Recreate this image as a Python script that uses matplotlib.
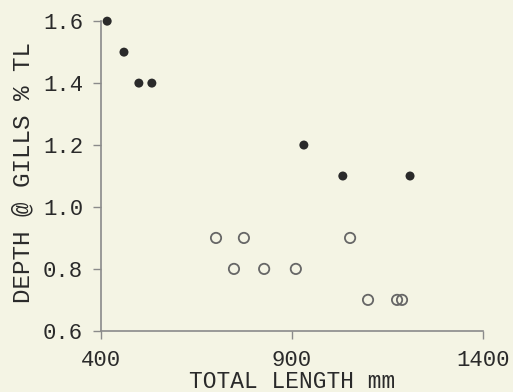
import matplotlib
matplotlib.use('Agg')
import matplotlib.pyplot as plt

# filled points
filled_len = [416, 460, 499, 533, 931, 1033, 1209]
filled_depth = [1.6, 1.5, 1.4, 1.4, 1.2, 1.1, 1.1]

# open points
open_len = [701, 774, 748, 827, 910, 1052, 1099, 1175, 1188]
open_depth = [0.9, 0.9, 0.8, 0.8, 0.8, 0.9, 0.7, 0.7, 0.7]

x_ticks = [400, 900, 1400]
y_ticks = [0.6, 0.8, 1.0, 1.2, 1.4, 1.6]
y_labels = ['0.6', '0.8', '1.0', '1.2', '1.4', '1.6']

bg = '#f4f4e4'
ink = '#2a2a2a'
plt.rcParams['font.family'] = ['Liberation Mono', 'DejaVu Sans Mono']

fig = plt.figure(figsize=(5.13, 3.92), dpi=100, facecolor=bg)
ax = fig.add_axes([0.197, 0.156, 0.7445, 0.79])
ax.set_facecolor(bg)

ax.scatter(filled_len, filled_depth, s=42, color=ink, edgecolors='none', zorder=3, clip_on=False)
ax.scatter(open_len, open_depth, s=55, facecolors='none', edgecolors='#666666', linewidths=1.3, zorder=3, clip_on=False)

ax.set_xlim(400, 1400)
ax.set_ylim(0.6, 1.6)
ax.set_xticks(x_ticks)
ax.set_yticks(y_ticks)
ax.set_yticklabels(y_labels)

for s in ['top', 'right']:
    ax.spines[s].set_visible(False)
for s in ['left', 'bottom']:
    ax.spines[s].set_color('#8a8a8a')
    ax.spines[s].set_linewidth(1.2)

ax.tick_params(colors='#8a8a8a', length=6, width=1.0, labelsize=16, labelcolor=ink)
ax.tick_params(axis='y', pad=7)
ax.tick_params(axis='x', pad=8)

ax.set_xlabel('TOTAL LENGTH mm', fontsize=16.5, color=ink, va='center', ha='center')
ax.xaxis.set_label_coords(0.5, -0.165)
ax.set_ylabel('DEPTH @ GILLS % TL', fontsize=17.5, color=ink, va='center', ha='center',
              rotation_mode='default')
ax.yaxis.set_label_coords(-0.204, 0.51)

plt.savefig('out.png', dpi=100, facecolor=bg)
